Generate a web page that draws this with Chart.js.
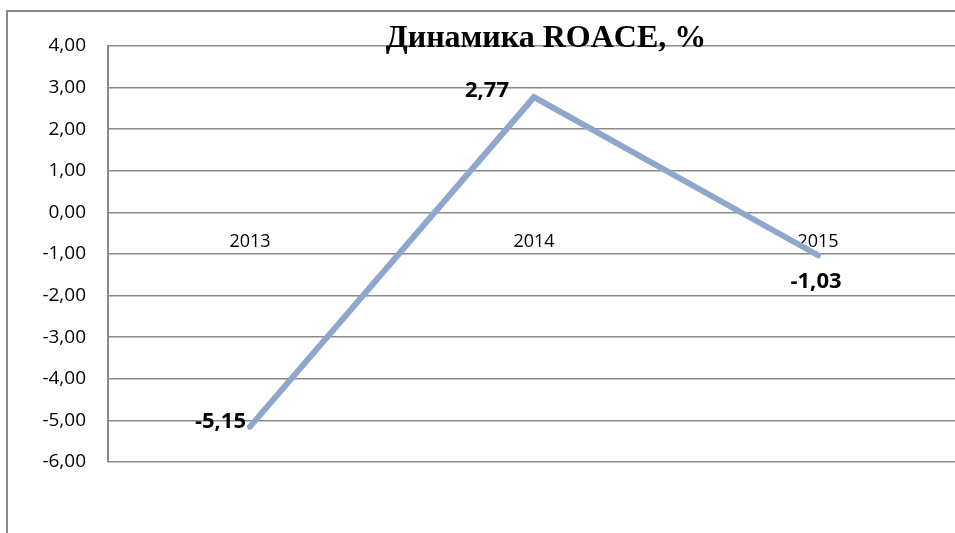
<!DOCTYPE html>
<html>
<head>
<meta charset="utf-8">
<script src="https://cdn.jsdelivr.net/npm/chart.js@4/dist/chart.umd.min.js"></script>
<style>
  html, body { margin: 0; padding: 0; background: #fff; overflow: hidden; }
  #quadro {
    position: absolute; left: 6px; top: 10px;
    width: 960px; height: 523px;
    border-left: 2px solid #8a8a8a; border-top: 2px solid #8a8a8a;
  }
  canvas { display: block; }
</style>
</head>
<body>
<div id="quadro"><canvas id="roaceChart" width="960" height="523"></canvas></div>
<script>
// Dados do gráfico
const anos = ['2013', '2014', '2015'];
const roace = [-5.15, 2.77, -1.03];
const eixoMin = -6;
const eixoMax = 4;
const passo = 1;
const posRotulos = ['esquerda', 'esquerda', 'abaixo']; // onde fica o rótulo de cada ponto

const formatar = v => v.toFixed(2).replace('.', ',');

// Título e rótulos de dados desenhados à mão (como no Excel)
const rotulosPlugin = {
  id: 'rotulos',
  afterDatasetsDraw(chart) {
    const ctx = chart.ctx;
    const pontos = chart.getDatasetMeta(0).data;
    ctx.save();
    ctx.fillStyle = '#000';
    ctx.font = "bold 22px 'Open Sans', sans-serif";
    ctx.textBaseline = 'middle';
    pontos.forEach((p, i) => {
      const txt = formatar(roace[i]);
      if (posRotulos[i] === 'abaixo') {
        ctx.textAlign = 'center';
        ctx.fillText(txt, p.x - 2, p.y + 26);
      } else if (i === 1) {
        ctx.textAlign = 'right';
        ctx.fillText(txt, p.x - 25, p.y - 6);
      } else {
        ctx.textAlign = 'right';
        ctx.fillText(txt, p.x - 4, p.y - 5);
      }
    });
    // título
    ctx.font = "bold 32px 'Liberation Serif', serif";
    ctx.textAlign = 'center';
    ctx.textBaseline = 'alphabetic';
    ctx.fillText('Динамика ROACE, %', 538, 35);
    ctx.restore();
  }
};

const ctx = document.getElementById('roaceChart').getContext('2d');
new Chart(ctx, {
  type: 'line',
  data: {
    labels: anos,
    datasets: [{
      data: roace,
      borderColor: '#8FA7CD',
      borderWidth: 6,
      borderCapStyle: 'round',
      borderJoinStyle: 'miter',
      pointRadius: 0,
      tension: 0,
      fill: false
    }]
  },
  options: {
    responsive: false,
    animation: false,
    layout: { padding: { top: 34, right: 8, bottom: 73, left: 0 } },
    plugins: {
      legend: { display: false },
      tooltip: { enabled: false }
    },
    scales: {
      x: {
        position: { y: 0 },
        offset: true,
        grid: { display: false, drawTicks: false },
        border: { display: false },
        ticks: {
          padding: 19,
          color: '#000',
          font: { size: 18, family: "'Open Sans', sans-serif" }
        }
      },
      y: {
        min: eixoMin,
        max: eixoMax,
        afterFit: s => { s.width = 100; },
        grid: { color: '#8a8a8a', lineWidth: 1.5, drawTicks: false },
        border: { color: '#8a8a8a', width: 2 },
        ticks: {
          stepSize: passo,
          autoSkip: false,
          padding: 22,
          color: '#000',
          font: { size: 19, family: "'Open Sans', sans-serif" },
          callback: v => formatar(v)
        }
      }
    }
  },
  plugins: [rotulosPlugin]
});
</script>
</body>
</html>
